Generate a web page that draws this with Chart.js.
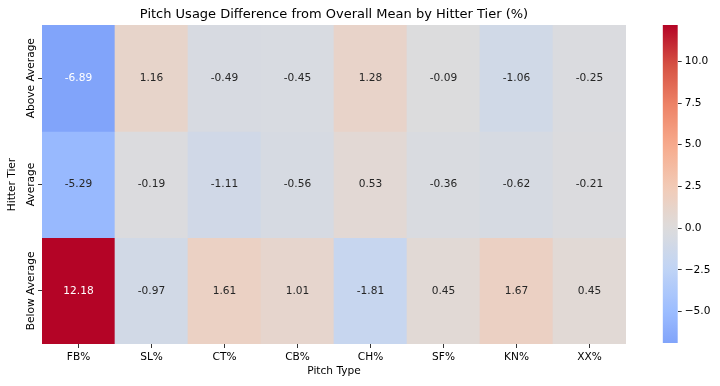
<!DOCTYPE html>
<html>
<head>
<meta charset="utf-8">
<script src="https://cdn.jsdelivr.net/npm/chart.js@4/dist/chart.umd.min.js"></script>
<style>
  html, body { margin: 0; padding: 0; background: #ffffff; }
  #wrap { position: relative; width: 720px; height: 386px; overflow: hidden; }
  #main { position: absolute; left: 0; top: 0; }
  #cbar { position: absolute; left: 640px; top: 0; }
</style>
</head>
<body>
<div id="wrap">
  <canvas id="main" width="668" height="386"></canvas>
  <canvas id="cbar" width="80" height="386"></canvas>
</div>
<script>
// ---- data ----
const pitchTypes = ['FB%', 'SL%', 'CT%', 'CB%', 'CH%', 'SF%', 'KN%', 'XX%'];
const hitterTiers = ['Above Average', 'Average', 'Below Average'];
const aboveAverage = [-6.89, 1.16, -0.49, -0.45, 1.28, -0.09, -1.06, -0.25];
const average = [-5.29, -0.19, -1.11, -0.56, 0.53, -0.36, -0.62, -0.21];
const belowAverage = [12.18, -0.97, 1.61, 1.01, -1.81, 0.45, 1.67, 0.45];
const colorbarTicks = [-5, -2.5, 0, 2.5, 5, 7.5, 10];
const chartTitle = 'Pitch Usage Difference from Overall Mean by Hitter Tier (%)';
const xTitle = 'Pitch Type';
const yTitle = 'Hitter Tier';

const rows = [aboveAverage, average, belowAverage];
const allVals = rows.flat();
const vmin = Math.min(...allVals);
const vmax = Math.max(...allVals);
const vrange = Math.max(vmax, -vmin);

// coolwarm colormap control points
const cw = [
  [59, 76, 192], [89, 119, 227], [123, 159, 249], [158, 190, 255], [192, 212, 245],
  [221, 220, 220], [242, 203, 183], [247, 172, 142], [238, 132, 104], [214, 82, 68], [180, 4, 38]
];
function cmapRGB(t) {
  t = Math.max(0, Math.min(1, t));
  const p = t * 10;
  const i = Math.min(9, Math.floor(p));
  const f = p - i;
  const a = cw[i], b = cw[i + 1];
  return [0, 1, 2].map(k => a[k] + (b[k] - a[k]) * f);
}
function valRGB(v) { return cmapRGB(0.5 + v / (2 * vrange)); }
function rgbStr(c) { return 'rgb(' + c.map(x => Math.round(x)).join(',') + ')'; }
function lum(c) {
  const l = c.map(x => { x /= 255; return x <= 0.03928 ? x / 12.92 : Math.pow((x + 0.055) / 1.055, 2.4); });
  return 0.2126 * l[0] + 0.7152 * l[1] + 0.0722 * l[2];
}

const FONT = 'DejaVu Sans';
const FS = 10.6;
Chart.defaults.font.family = FONT;
Chart.defaults.color = '#000';

const datasets = rows.map((vals, r) => ({
  label: hitterTiers[r],
  data: vals.map(() => 1),
  values: vals,
  backgroundColor: vals.map(v => rgbStr(valRGB(v))),
  borderWidth: 0,
  barPercentage: 1.0,
  categoryPercentage: 1.0,
  borderSkipped: false
}));

const annotPlugin = {
  id: 'annot',
  afterDatasetsDraw(chart) {
    const ctx = chart.ctx;
    ctx.save();
    ctx.font = FS + 'px "' + FONT + '"';
    ctx.textAlign = 'center';
    ctx.textBaseline = 'middle';
    chart.data.datasets.forEach((ds, d) => {
      const meta = chart.getDatasetMeta(d);
      meta.data.forEach((el, i) => {
        const v = ds.values[i];
        const c = valRGB(v);
        ctx.fillStyle = lum(c) > 0.408 ? '#262626' : '#ffffff';
        ctx.fillText(v.toFixed(2), el.x, (el.y + el.base) / 2);
      });
    });
    // row labels (rotated)
    const ys = chart.scales.y;
    ctx.fillStyle = '#000';
    ctx.textBaseline = 'alphabetic';
    hitterTiers.forEach((t, r) => {
      const y = ys.getPixelForValue(r + 0.5);
      ctx.save();
      ctx.translate(ys.right - 8.5, y);
      ctx.rotate(-Math.PI / 2);
      ctx.fillText(t, 0, 0);
      ctx.restore();
    });
    ctx.restore();
  }
};

new Chart(document.getElementById('main'), {
  type: 'bar',
  data: { labels: pitchTypes, datasets },
  options: {
    responsive: false,
    animation: false,
    devicePixelRatio: 1,
    layout: { padding: 0 },
    plugins: {
      legend: { display: false },
      tooltip: { enabled: false },
      title: {
        display: true,
        text: chartTitle,
        color: '#000',
        font: { size: 13, weight: 'normal', family: FONT },
        padding: { top: 6.5, bottom: 2.9 }
      }
    },
    scales: {
      x: {
        stacked: true,
        offset: true,
        grid: { offset: false, drawOnChartArea: false, drawTicks: true, tickLength: 4, color: '#000', lineWidth: 0.8 },
        border: { display: false },
        ticks: { padding: 3, color: '#000', font: { size: FS }, maxRotation: 0, minRotation: 0 },
        title: { display: true, text: xTitle, color: '#000', font: { size: FS }, padding: { top: 0, bottom: 8.5 } },
        afterFit(s) { s.height = 42; }
      },
      y: {
        stacked: true,
        reverse: true,
        min: 0,
        max: 3,
        grid: { drawOnChartArea: false, drawTicks: true, tickLength: 4, color: '#000', lineWidth: 0.8 },
        border: { display: false },
        afterBuildTicks(s) { s.ticks = hitterTiers.map((t, i) => ({ value: i + 0.5 })); },
        ticks: { display: false },
        title: { display: true, text: yTitle, color: '#000', font: { size: FS }, padding: { top: 6, bottom: 0 } },
        afterFit(s) { s.width = 42; }
      },
      spacer: {
        type: 'linear',
        position: 'right',
        display: true,
        grid: { display: false },
        border: { display: false },
        ticks: { display: false },
        afterFit(s) { s.width = 42; }
      }
    }
  },
  plugins: [annotPlugin]
});

// ---- colorbar ----
function fmtTick(v) {
  const s = Math.abs(v).toFixed(1);
  return v < 0 ? '\u2212' + s : s;
}
new Chart(document.getElementById('cbar'), {
  type: 'bar',
  data: {
    labels: [''],
    datasets: [{
      data: [[vmin, vmax]],
      borderWidth: 0,
      barPercentage: 1.0,
      categoryPercentage: 1.0,
      borderSkipped: false,
      backgroundColor(c) {
        const ch = c.chart;
        if (!ch.chartArea) return 'rgba(0,0,0,0)';
        const ys = ch.scales.y;
        const y0 = ys.getPixelForValue(vmin), y1 = ys.getPixelForValue(vmax);
        const g = ch.ctx.createLinearGradient(0, y0, 0, y1);
        const n = 40;
        for (let i = 0; i <= n; i++) {
          const v = vmin + (vmax - vmin) * i / n;
          g.addColorStop(i / n, rgbStr(valRGB(v)));
        }
        return g;
      }
    }]
  },
  options: {
    responsive: false,
    animation: false,
    devicePixelRatio: 1,
    layout: { padding: { left: 22.7, right: 0, top: 25, bottom: 43 } },
    plugins: { legend: { display: false }, tooltip: { enabled: false } },
    scales: {
      x: { display: false, offset: true },
      y: {
        position: 'right',
        min: vmin,
        max: vmax,
        grid: { drawOnChartArea: false, drawTicks: true, tickLength: 4, color: '#000', lineWidth: 0.8 },
        border: { display: false },
        afterBuildTicks(s) { s.ticks = colorbarTicks.map(v => ({ value: v })); },
        ticks: { padding: 3, color: '#000', font: { size: FS }, callback: v => fmtTick(v) },
        afterFit(s) { s.width = 42.3; }
      }
    }
  }
});
</script>
</body>
</html>
